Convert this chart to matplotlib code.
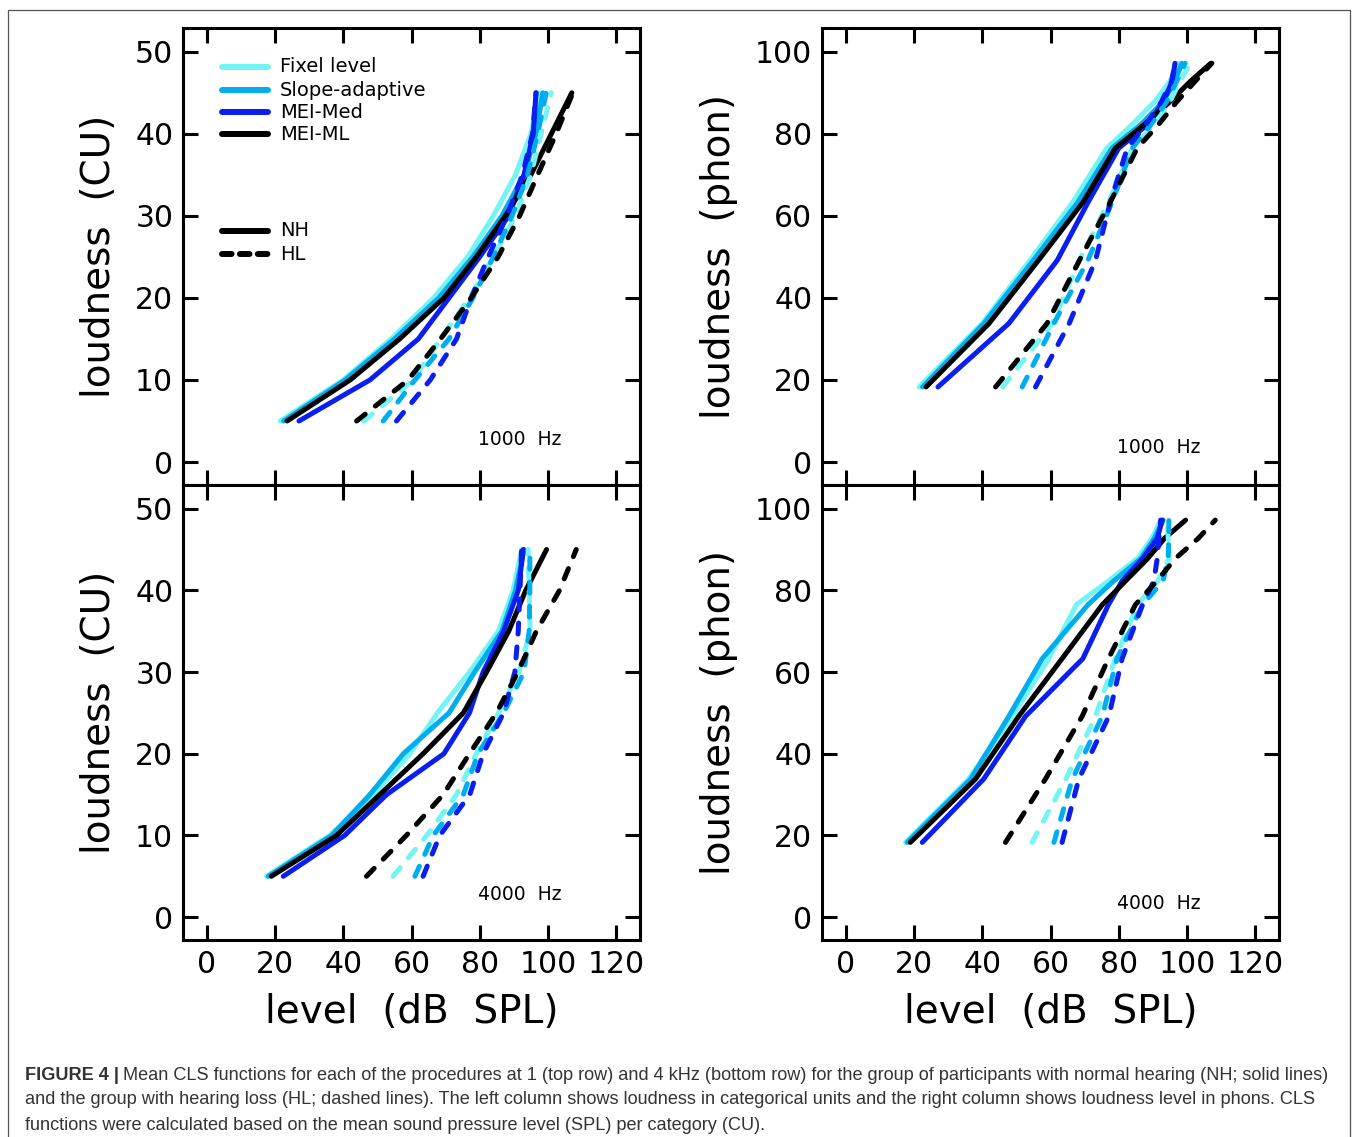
import matplotlib
matplotlib.use('Agg')
import matplotlib.pyplot as plt
from matplotlib.patches import Rectangle

plt.rcParams['font.family'] = ['DejaVu Sans']

# categorical loudness steps and their loudness level in phon
cu = [5, 10, 15, 20, 25, 30, 35, 40, 45]
phon = [18.3, 33.8, 49.2, 63.3, 76.5, 82.3, 87.8, 92.8, 97.2]

procedures = ['Fixel level', 'Slope-adaptive', 'MEI-Med', 'MEI-ML']
colors = ['#74F4F4', '#00AEEF', '#0A1EF0', 'black']

# level (dB SPL) per CU step, 1000 Hz
nh_1k = [
    [21.5, 40.0, 54.0, 66.5, 76.5, 84.0, 90.5, 95.0, 97.5],
    [22.5, 40.5, 55.0, 68.0, 78.0, 86.5, 93.0, 96.5, 98.5],
    [27.0, 47.8, 62.0, 71.0, 80.0, 88.5, 93.0, 95.7, 96.5],
    [23.5, 42.0, 56.5, 69.5, 79.0, 87.5, 95.0, 101.0, 107.0],
]
hl_1k = [
    [46.0, 60.5, 68.5, 77.0, 84.0, 90.5, 95.0, 98.0, 101.0],
    [51.7, 61.0, 71.0, 78.0, 84.0, 89.5, 94.0, 97.0, 99.5],
    [55.6, 65.5, 73.2, 77.5, 82.5, 88.0, 92.5, 95.5, 96.5],
    [43.9, 59.0, 68.5, 77.5, 85.4, 91.7, 97.0, 102.4, 107.3],
]
# 4000 Hz
nh_4k = [
    [17.5, 36.0, 48.8, 59.5, 67.6, 77.0, 85.5, 89.8, 92.3],
    [18.0, 36.6, 47.8, 57.6, 71.0, 78.5, 86.5, 90.5, 93.0],
    [22.4, 40.4, 52.7, 69.5, 77.0, 81.0, 87.0, 91.3, 92.8],
    [18.9, 38.0, 50.7, 63.4, 75.2, 82.0, 88.5, 93.5, 99.6],
]
hl_4k = [
    [54.6, 64.5, 73.2, 79.0, 85.5, 91.5, 94.8, 94.5, 94.2],
    [61.0, 66.4, 75.2, 79.5, 87.0, 93.0, 94.5, 94.7, 94.7],
    [63.4, 68.3, 77.1, 81.0, 87.0, 90.3, 91.3, 91.8, 92.3],
    [46.8, 58.5, 69.3, 77.0, 84.9, 91.2, 96.6, 103.4, 108.3],
]

xticks = [0, 20, 40, 60, 80, 100, 120]
cu_ticks = [0, 10, 20, 30, 40, 50]
phon_ticks = [0, 20, 40, 60, 80, 100]

caption = [
    'Mean CLS functions for each of the procedures at 1 (top row) and 4 kHz '
    '(bottom row) for the group of participants with normal hearing (NH; solid lines)',
    'and the group with hearing loss (HL; dashed lines). The left column shows loudness '
    'in categorical units and the right column shows loudness level in phons. CLS',
    'functions were calculated based on the mean sound pressure level (SPL) per category (CU).',
]

W, H = 1358, 1137
fig = plt.figure(figsize=(W / 100, H / 100), dpi=100)

def box(l, t, r, b):
    return [l / W, 1 - b / H, (r - l) / W, (b - t) / H]

ax_tl = fig.add_axes(box(183, 28, 640, 485))
ax_tr = fig.add_axes(box(822, 28, 1279, 485))
ax_bl = fig.add_axes(box(183, 485, 640, 940))
ax_br = fig.add_axes(box(822, 485, 1279, 940))

dash = (0, (2.2, 2.6))
lw = 3.6

panels = [
    (ax_tl, nh_1k, hl_1k, cu, cu_ticks, (-2.8, 52.9), 'loudness  (CU)', '1000  Hz', 0.10, False),
    (ax_tr, nh_1k, hl_1k, phon, phon_ticks, (-5.6, 105.8), 'loudness  (phon)', '1000  Hz', 0.083, False),
    (ax_bl, nh_4k, hl_4k, cu, cu_ticks, (-2.8, 52.9), 'loudness  (CU)', '4000  Hz', 0.10, True),
    (ax_br, nh_4k, hl_4k, phon, phon_ticks, (-5.6, 105.8), 'loudness  (phon)', '4000  Hz', 0.08, True),
]

for ax, nh, hl, yv, yt, ylim, ylab, freq, fy, bottom in panels:
    for i in range(4):
        ax.plot(nh[i], yv, color=colors[i], lw=lw, solid_capstyle='round',
                solid_joinstyle='round')
    for i in range(4):
        ax.plot(hl[i], yv, color=colors[i], lw=lw, linestyle=dash,
                dash_capstyle='round')
    ax.set_xlim(-7, 127)
    ax.set_ylim(*ylim)
    ax.set_xticks(xticks)
    ax.set_yticks(yt)
    ax.tick_params(direction='in', length=11, width=2.2, top=True, right=True,
                   labelsize=21.5, pad=7)
    if not bottom:
        ax.tick_params(labelbottom=False)
    else:
        ax.set_xlabel('level  (dB  SPL)', fontsize=28, labelpad=10)
    ax.set_ylabel(ylab, fontsize=28, labelpad=12)
    for s in ax.spines.values():
        s.set_linewidth(2.2)
    ax.text(0.737, fy, freq, transform=ax.transAxes, fontsize=13.5,
            ha='center', va='center')

# legend drawn in the top-left panel
rows = [0.915, 0.864, 0.816, 0.768]
for i in range(4):
    ax_tl.plot([0.085, 0.186], [rows[i], rows[i]], transform=ax_tl.transAxes,
               color=colors[i], lw=4.3, solid_capstyle='round')
    ax_tl.text(0.212, rows[i], procedures[i], transform=ax_tl.transAxes,
               fontsize=14, va='center')
ax_tl.plot([0.085, 0.186], [0.556, 0.556], transform=ax_tl.transAxes,
           color='black', lw=4.3, solid_capstyle='round')
ax_tl.text(0.212, 0.556, 'NH', transform=ax_tl.transAxes, fontsize=14, va='center')
ax_tl.plot([0.085, 0.186], [0.505, 0.505], transform=ax_tl.transAxes,
           color='black', lw=4.3, linestyle=(0, (1.6, 1.4)), dash_capstyle='round')
ax_tl.text(0.212, 0.505, 'HL', transform=ax_tl.transAxes, fontsize=14, va='center')

# outer frame and caption
fig.add_artist(Rectangle((8 / W, -0.01), 1342 / W, 1 - 10 / H + 0.01,
                         transform=fig.transFigure, fill=False,
                         edgecolor='#555555', lw=0.9))

cap_font = ['Liberation Sans', 'DejaVu Sans']
cap_size = 12
t1 = fig.text(25 / W, 1 - 1075 / H, 'FIGURE 4 |', fontsize=cap_size, fontweight='bold',
              family=cap_font, color='#333333', va='center')
t2 = ax_tl.annotate(caption[0], xy=(1, 0.5), xycoords=t1, xytext=(3, 0),
                    textcoords='offset points', va='center', fontsize=cap_size,
                    family=cap_font, color='#333333', annotation_clip=False)
t3 = fig.text(25 / W, 1 - 1100 / H, caption[1], fontsize=cap_size, family=cap_font,
              color='#333333', va='center')
t4 = fig.text(25 / W, 1 - 1125 / H, caption[2], fontsize=cap_size, family=cap_font,
              color='#333333', va='center')

# shrink the caption so the first line ends where the reference's does
r = fig.canvas.get_renderer()
right = t2.get_window_extent(r).x1
scale = (1332 - 25) / (right - 25)
for t in (t1, t2, t3, t4):
    t.set_fontsize(cap_size * scale)

fig.savefig('out.png', dpi=100)
